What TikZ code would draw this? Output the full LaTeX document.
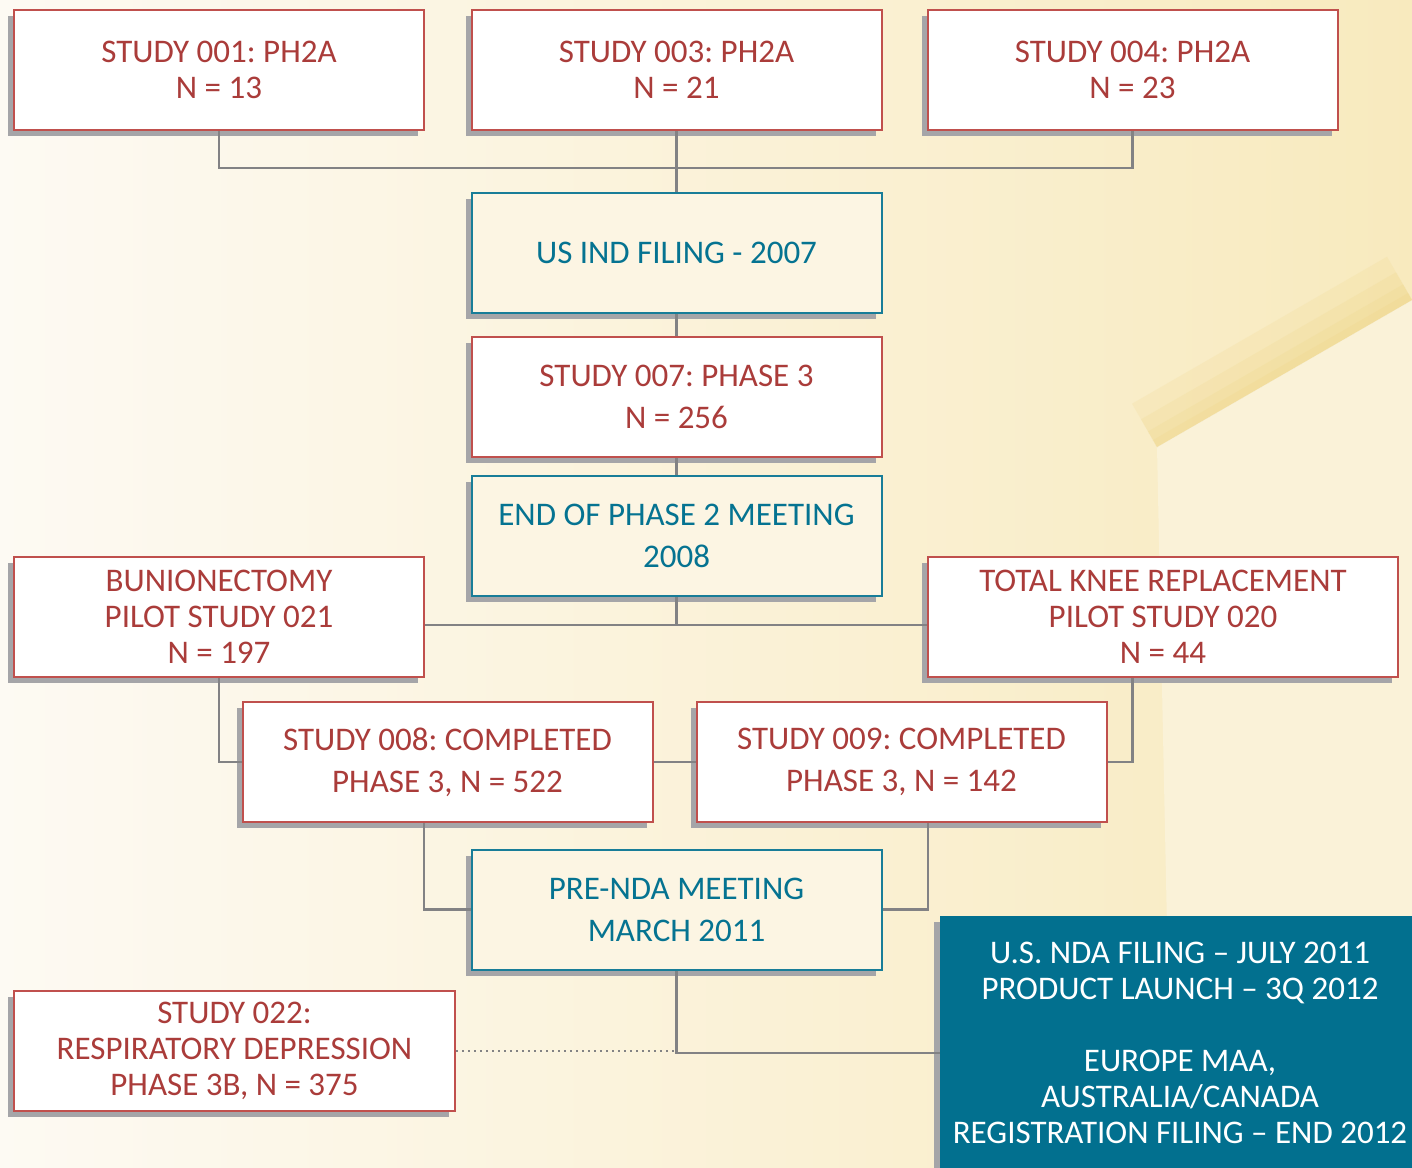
\documentclass[tikz,border=0pt]{standalone}
\usepackage{fontspec}
\setmainfont{Carlito}
\frenchspacing
\usetikzlibrary{calc}
\usetikzlibrary{positioning}
\definecolor{custom-red}{RGB}{192, 80, 77}
\definecolor{custom-redtext}{RGB}{170, 60, 58}
\definecolor{custom-teal}{RGB}{24, 125, 152}
\definecolor{custom-tealtext}{RGB}{5, 115, 145}
\definecolor{custom-dark}{RGB}{2, 112, 143}
\definecolor{custom-cream}{RGB}{252, 245, 227}
\definecolor{custom-bgleft}{RGB}{253, 250, 243}
\definecolor{custom-bgright}{RGB}{248, 234, 190}
\definecolor{custom-bgpale}{RGB}{250, 242, 216}
\definecolor{custom-band}{RGB}{236, 205, 110}
\definecolor{custom-shadow}{RGB}{165, 165, 168}
\definecolor{custom-line}{RGB}{130, 130, 132}

\tikzset{
  boxshadow/.style={preaction={fill=custom-shadow, transform canvas={shift={(-6pt,-6pt)}}}},
  studybox/.style={boxshadow, draw=custom-red, fill=white, line width=2pt,
    text=custom-redtext, align=center, minimum width=410pt, minimum height=120pt,
    inner sep=2pt, font=\fontsize{33}{36}\selectfont},
  milebox/.style={studybox, draw=custom-teal, fill=custom-cream, text=custom-tealtext},
  filingbox/.style={boxshadow, fill=custom-dark, text=white, align=center,
    minimum width=480pt, minimum height=254pt, inner sep=2pt,
    font=\fontsize{33}{36}\selectfont},
  link/.style={draw=custom-line, line width=2.2pt}
}

\begin{document}
\begin{tikzpicture}[x=1pt, y=-1pt]
\useasboundingbox (0,0) rectangle (1412,1167);
\clip (0,0) rectangle (1412,1167);

% background
\shade[left color=custom-bgleft, right color=custom-bgright] (0,0) rectangle (1412,1167);
\fill[custom-bgpale] (1157,447) -- (1412,300) -- (1412,1167) -- (1172,1167) -- cycle;
\foreach \d in {8,18,32,50}
  \fill[custom-band, opacity=0.13] (1157,447) -- (1412,300) -- (1412-0.5*\d,300-0.866*\d) -- (1157-0.5*\d,447-0.866*\d) -- cycle;

% boxes
\node[studybox] (s001) at (219,70) {STUDY 001: PH2A\\N = 13};
\node[studybox] (s003) at (676.5,70) {STUDY 003: PH2A\\N = 21};
\node[studybox] (s004) at (1132.5,70) {STUDY 004: PH2A\\N = 23};

\node[milebox] (ind) at (676.5,253) {US IND FILING - 2007};
\node[studybox] (s007) at (676.5,396.5) {STUDY 007: PHASE 3\\[6pt]N = 256};
\node[milebox] (eop2) at (676.5,536) {END OF PHASE 2 MEETING\\[6pt]2008};

\node[studybox] (bun) at (219,617) {BUNIONECTOMY\\PILOT STUDY 021\\N = 197};
\node[studybox, minimum width=470pt] (tkr) at (1163,617) {TOTAL KNEE REPLACEMENT\\PILOT STUDY 020\\N = 44};

\node[studybox] (s008) at (447.5,762) {STUDY 008: COMPLETED\\[6pt]PHASE 3, N = 522};
\node[studybox] (s009) at (901.5,762) {STUDY 009: COMPLETED\\[6pt]PHASE 3, N = 142};

\node[milebox] (pre) at (676.5,909.5) {PRE-NDA MEETING\\[6pt]MARCH 2011};

\node[studybox, minimum width=441pt] (s022) at (234.5,1051) {STUDY 022:\\RESPIRATORY DEPRESSION\\PHASE 3B, N = 375};

\node[filingbox] (nda) at (1180,1043) {U.S. NDA FILING -- JULY 2011\\PRODUCT LAUNCH -- 3Q 2012\\[36pt]EUROPE MAA,\\AUSTRALIA/CANADA\\REGISTRATION FILING -- END 2012};

% connectors
\coordinate (j1) at (676.5,168);
\coordinate (j2) at (676.5,625);
\draw[link] (s001.south) |- (j1) -| (s004.south);
\draw[link] (s003.south) -- (ind.north);
\draw[link] (ind.south) -- (s007.north);
\draw[link] (s007.south) -- (eop2.north);
\draw[link] (eop2.south) -- (j2);
\draw[link] (bun.east |- j2) -- (tkr.west |- j2);
\draw[link] (bun.south) |- (s008.west);
\draw[link] ([xshift=-30.5]tkr.south) |- (s009.east);
\draw[link] (s008.east) -- (s009.west);
\draw[link] ([xshift=-23.5]s008.south) |- (pre.west);
\draw[link] ([xshift=26.5]s009.south) |- (pre.east);
\draw[link] (pre.south) |- ([yshift=-10]nda.west);
\draw[link, line width=1.6pt, dash pattern=on 1.6pt off 4.4pt] (s022.east) -- (pre.south |- s022.east);
\end{tikzpicture}
\end{document}
